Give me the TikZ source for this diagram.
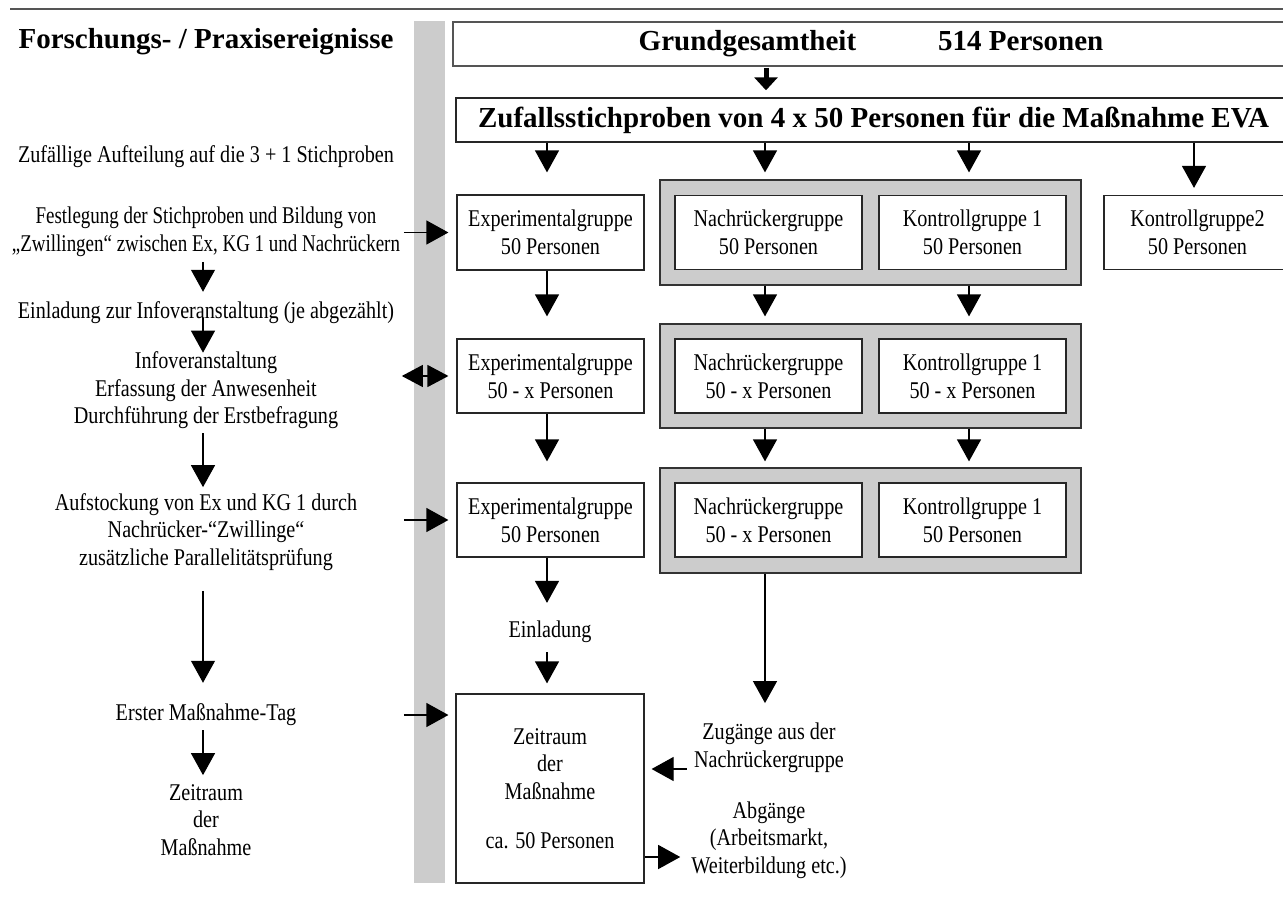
\documentclass[tikz,border=0pt]{standalone}
\usepackage{fontspec}
\setmainfont{Liberation Serif}
\newfontfamily\nf{Liberation Serif}[FakeStretch=0.84]
\newfontfamily\nfn{Liberation Serif}[FakeStretch=0.79]
\usetikzlibrary{arrows.meta,calc}
\definecolor{barcol}{HTML}{CCCCCC}
\definecolor{rulecol}{HTML}{555555}
\newcommand\rgtxt{\nf\fontsize{24}{27.6}\selectfont}
\newcommand\rgntxt{\nfn\fontsize{24}{27.6}\selectfont}
\newcommand\bdtxt{\bfseries\fontsize{29}{33}\selectfont}
\begin{document}
\begin{tikzpicture}[x=1pt,y=-1pt,
  box/.style={draw=black!85, line width=1.2pt, fill=white, minimum width=187pt, minimum height=74pt, inner sep=0pt, align=center, font=\rgtxt},
  cont/.style={draw=black!80, line width=1.2pt, fill=barcol, minimum width=421pt, inner sep=0pt},
  txt/.style={inner sep=0pt, align=center, font=\rgtxt},
  arr/.style={line width=1.2pt, -{Triangle[length=22pt,width=24pt]}},
  darr/.style={line width=1.2pt, {Triangle[length=21pt,width=22pt]}-{Triangle[length=21pt,width=22pt]}},
]
\useasboundingbox (0,0) rectangle (1283,902);
\clip (0,0) rectangle (1283,902);

% top rule
\draw[rulecol, line width=2pt] (10,9) -- (1290,9);

% grey bar
\node[fill=barcol, inner sep=0pt, minimum width=31pt, minimum height=862pt] (bar) at (429.5,452) {};

% title
\node[font=\bdtxt, inner sep=0pt] (title) at (206,42) {Forschungs- / Praxisereignisse};

% top boxes
\node[draw=rulecol, line width=1.8pt, fill=white, minimum width=836pt, minimum height=44pt, inner sep=0pt, font=\bdtxt] (grund) at (871,44) {Grundgesamtheit\hspace{82pt}514 Personen};
\node[draw=black!85, line width=1.4pt, fill=white, minimum width=835pt, minimum height=44pt, inner sep=0pt, font=\bdtxt] (zuf) at (873.5,120) {Zufallsstichproben von 4 x 50 Personen für die Maßnahme EVA};

% containers
\node[cont, minimum height=105pt] (c1) at (870.5,232.5) {};
\node[cont, minimum height=104pt] (c2) at (870.5,376) {};
\node[cont, minimum height=105pt] (c3) at (870.5,520.5) {};

% row 1
\node[box, minimum height=75pt] (ex1) at (550.5,232.5) {Experimentalgruppe\\50 Personen};
\node[box] (n1) at (768.5,232.5) {Nachrückergruppe\\50 Personen};
\node[box] (k1) at (972.5,232.5) {Kontrollgruppe 1\\50 Personen};
\node[box] (kz) at (1197.5,232.5) {Kontrollgruppe2\\50 Personen};

% row 2
\node[box] (ex2) at (550.5,376) {Experimentalgruppe\\50 - x Personen};
\node[box] (n2) at (768.5,376) {Nachrückergruppe\\50 - x Personen};
\node[box] (k2) at (972.5,376) {Kontrollgruppe 1\\50 - x Personen};

% row 3
\node[box] (ex3) at (550.5,520) {Experimentalgruppe\\50 Personen};
\node[box] (n3) at (768.5,520) {Nachrückergruppe\\50 - x Personen};
\node[box] (k3) at (972.5,520) {Kontrollgruppe 1\\50 Personen};

% lower part
\node[txt] (E1) at (550,632) {Einladung};
\node[box, minimum width=188pt, minimum height=189pt] (zt) at (550,788.5) {Zeitraum\\der\\Maßnahme\\[21.4pt]ca. 50 Personen};
\node[txt] (Z1) at (769,748) {Zugänge aus der\\Nachrückergruppe};
\node[txt] (A1) at (769,840) {Abgänge\\(Arbeitsmarkt,\\Weiterbildung etc.)};

% left column
\node[txt] (L1) at (206,157) {Zufällige Aufteilung auf die 3 + 1 Stichproben};
\node[txt, font=\rgntxt] (L2) at (206,232) {Festlegung der Stichproben und Bildung von\\„Zwillingen“ zwischen Ex, KG 1 und Nachrückern};
\node[txt] (L3) at (206,313) {Einladung zur Infoveranstaltung (je abgezählt)};
\node[txt] (L4) at (206,390.5) {Infoveranstaltung\\Erfassung der Anwesenheit\\Durchführung der Erstbefragung};
\node[txt] (L5) at (206,532) {Aufstockung von Ex und KG 1 durch\\Nachrücker-“Zwillinge“\\zusätzliche Parallelitätsprüfung};
\node[txt] (L6) at (206,715) {Erster Maßnahme-Tag};
\node[txt] (L7) at (206,820) {Zeitraum\\der\\Maßnahme};

% thick arrow
\draw[line width=5pt, -{Triangle[length=13pt,width=23pt]}, transform canvas={xshift=-2.5pt}] (grund.south -| n1.north) -- (zuf.north -| n1.north) [shorten >=7pt, shorten <=1pt];

% arrows from Zufall box
\begin{scope}[transform canvas={xshift=-3.5pt}]
\draw[arr, shorten >=22pt] (ex1.north |- zuf.south) -- (ex1.north);
\draw[arr, shorten >=7pt] (n1.north |- zuf.south) -- (n1.north |- c1.north);
\draw[arr, shorten >=7pt] (k1.north |- zuf.south) -- (k1.north |- c1.north);
\draw[arr, shorten >=7pt] (kz.north |- zuf.south) -- (kz.north);
% row 1 -> row 2
\draw[arr, shorten >=22pt] (ex1.south) -- (ex2.north);
\draw[arr, shorten >=7pt] (n1.south |- c1.south) -- (n2.north |- c2.north);
\draw[arr, shorten >=7pt] (k1.south |- c1.south) -- (k2.north |- c2.north);
% row 2 -> row 3
\draw[arr, shorten >=21pt] (ex2.south) -- (ex3.north);
\draw[arr, shorten >=6pt] (n2.south |- c2.south) -- (n3.north |- c3.north);
\draw[arr, shorten >=6pt] (k2.south |- c2.south) -- (k3.north |- c3.north);
% lower
\draw[arr, shorten >=18pt] (ex3.south) -- (E1.north -| ex3.south);
\draw[arr, shorten <=9pt, shorten >=10pt] (E1.south -| ex3.south) -- (zt.north -| ex3.south);
\draw[arr, shorten >=20pt] (n3.south |- c3.south) -- (Z1.north -| n3.south);
\end{scope}

% left column arrows
\begin{scope}[transform canvas={xshift=-3pt}]
\draw[arr, shorten <=5pt, shorten >=10pt] (L2.south) -- (L3.north);
\draw[arr, shorten <=-6pt, shorten >=-1pt] (L3.south) -- (L4.north);
\draw[arr, shorten <=4pt, shorten >=6pt] (L4.south) -- (L5.north);
\draw[arr, shorten <=20pt, shorten >=21pt] (L5.south) -- (L6.north);
\draw[arr, shorten <=4pt, shorten >=9pt] (L6.south) -- (L7.north);
\end{scope}

% arrows across the bar
\draw[arr, shorten <=-10pt, shorten >=8pt] (bar.west |- ex1.west) -- (ex1.west);
\draw[darr, shorten <=-12pt, shorten >=8pt] (bar.west |- ex2.west) -- (ex2.west);
\draw[arr, shorten <=-10pt, shorten >=8pt] (bar.west |- ex3.west) -- (ex3.west);
\draw[arr, shorten <=-10pt, shorten >=7pt] (bar.west |- L6.east) -- (zt.west |- L6.east);

% in/out arrows at the Zeitraum box
\coordinate (zin) at ($(Z1.west)+(0,21)$);
\coordinate (aout) at ($(A1.west)+(0,17)$);
\draw[arr, shorten <=7pt, shorten >=7pt] (zin) -- (zin -| zt.east);
\draw[arr, shorten >=11pt] (aout -| zt.east) -- (aout);
\end{tikzpicture}
\end{document}
